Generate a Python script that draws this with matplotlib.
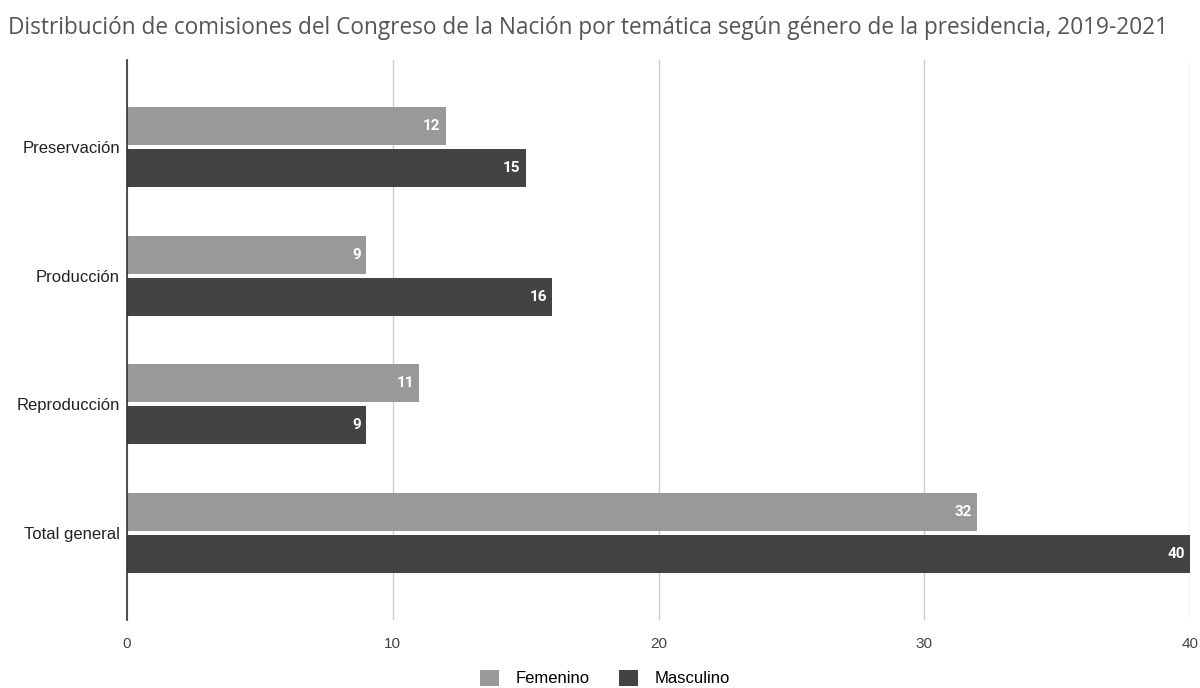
import matplotlib.pyplot as plt
import numpy as np

categorias = ["Preservación", "Producción", "Reproducción", "Total general"]
femenino = [12, 9, 11, 32]
masculino = [15, 16, 9, 40]

c_fem = "#999999"
c_mas = "#434343"

fig = plt.figure(figsize=(12, 6.88), dpi=100)
ax = fig.add_axes([127/1200, 1-620/688, (1190-127)/1200, 560/688])

y = np.arange(len(categorias))
h = 0.296
off = 0.163
b1 = ax.barh(y - off, femenino, height=h, color=c_fem, label="Femenino", zorder=3)
b2 = ax.barh(y + off, masculino, height=h, color=c_mas, label="Masculino", zorder=3)

for bars, vals in ((b1, femenino), (b2, masculino)):
    for bar, v in zip(bars, vals):
        ax.text(v - 0.2, bar.get_y() + bar.get_height()/2, str(v), ha="right", va="center",
                color="white", fontsize=11, fontweight="bold", family="Roboto", zorder=4)

ax.set_xlim(0, 40)
ax.set_ylim(3.68, -0.68)
ax.set_yticks(y)
ax.set_yticklabels(categorias, fontsize=12, family="Liberation Sans", color="#222222")
ax.set_xticks([0, 10, 20, 30, 40])
ax.set_xticklabels(["0", "10", "20", "30", "40"], fontsize=11, family="Liberation Sans", color="#444444")
ax.tick_params(axis="both", length=0)
ax.tick_params(axis="x", pad=12)
ax.tick_params(axis="y", pad=5)
ax.grid(axis="x", color="#cccccc", linewidth=1, zorder=0)
for s in ("top", "right", "bottom"):
    ax.spines[s].set_visible(False)
ax.spines["left"].set_color("#333333")
ax.spines["left"].set_linewidth(1.2)
ax.spines["left"].set_zorder(5)

fig.text(8/1200, 1-28/688, "Distribución de comisiones del Congreso de la Nación por temática según género de la presidencia, 2019-2021",
         fontsize=16.3, family="Open Sans", color="#555555", va="center", ha="left")

fig.legend(handles=[b1, b2], loc="center", bbox_to_anchor=(605/1200, 1-678/688), ncol=2, frameon=False,
           prop={"family": "Liberation Sans", "size": 12}, handlelength=1.1, handleheight=1.1,
           columnspacing=1.8, handletextpad=1.0)

fig.savefig("out.png", dpi=100)
